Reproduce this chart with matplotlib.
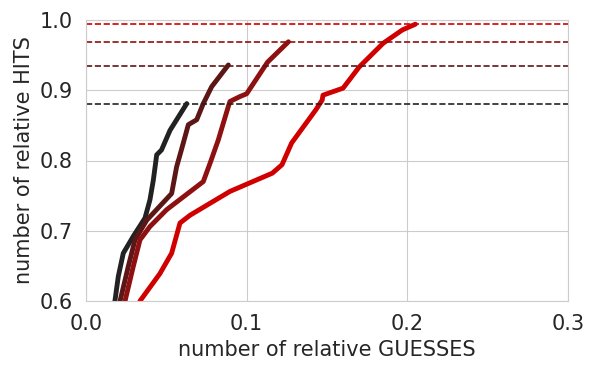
import matplotlib
matplotlib.use("Agg")
import matplotlib.pyplot as plt
import seaborn as sns

sns.set_style("whitegrid")

# curves: relative guesses (x) vs relative hits (y)
black_x = [0.0180, 0.0201, 0.0232, 0.0294, 0.0367, 0.0398, 0.0419, 0.0440, 0.0470, 0.0523, 0.0627]
black_y = [0.600, 0.635, 0.668, 0.692, 0.718, 0.744, 0.772, 0.808, 0.815, 0.843, 0.881]

dark_x = [0.0212, 0.0263, 0.0305, 0.0378, 0.0533, 0.0564, 0.0590, 0.0637, 0.0689, 0.0730, 0.0782, 0.0886]
dark_y = [0.600, 0.649, 0.687, 0.715, 0.753, 0.791, 0.812, 0.851, 0.858, 0.881, 0.905, 0.936]

mid_x = [0.0243, 0.0294, 0.0336, 0.0398, 0.0502, 0.0730, 0.0772, 0.0823, 0.0886, 0.0896,
         0.0958, 0.1000, 0.1130, 0.1260]
mid_y = [0.600, 0.649, 0.687, 0.706, 0.730, 0.770, 0.796, 0.829, 0.877, 0.884,
         0.891, 0.895, 0.940, 0.969]

red_x = [0.0336, 0.0460, 0.0533, 0.0585, 0.0647, 0.0896, 0.1160, 0.1220, 0.1280, 0.1430,
         0.1470, 0.1475, 0.1600, 0.1700, 0.1850, 0.1970, 0.2050]
red_y = [0.600, 0.639, 0.668, 0.711, 0.722, 0.756, 0.782, 0.794, 0.825, 0.872,
         0.886, 0.893, 0.903, 0.933, 0.967, 0.986, 0.994]

# max hit levels (dashed)
levels = [0.880, 0.935, 0.969, 0.994]
colors = ["#222222", "#5c1616", "#8e1010", "#d10000"]

fig = plt.figure(figsize=(5.98, 3.74), dpi=100)
ax = fig.add_axes([86 / 598, 1 - 301 / 374, 482 / 598, 281 / 374])

for xs, ys, c in zip([black_x, dark_x, mid_x, red_x], [black_y, dark_y, mid_y, red_y], colors):
    ax.plot(xs, ys, color=c, linewidth=3.5, solid_capstyle="round")
for lv, c in zip(levels, colors):
    ax.axhline(lv, color=c, linestyle="--", linewidth=1.2)

ax.set_xlim(0, 0.3)
ax.set_ylim(0.6, 1.0)
ax.set_xticks([0.0, 0.1, 0.2, 0.3])
ax.set_yticks([0.6, 0.7, 0.8, 0.9, 1.0])
ax.tick_params(labelsize=15, colors="#262626", pad=6)
ax.set_xlabel("number of relative GUESSES", fontsize=15, color="#262626", labelpad=4)
ax.set_ylabel("number of relative HITS", fontsize=15, color="#262626", labelpad=4)
for s in ax.spines.values():
    s.set_color("#cccccc")

plt.savefig("out.png", dpi=100)
